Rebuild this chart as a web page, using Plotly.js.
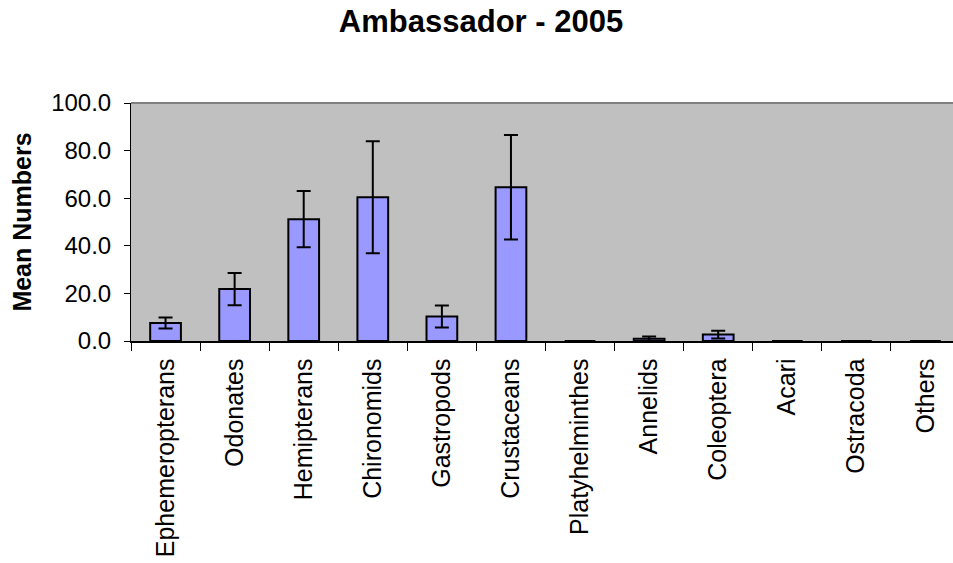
<!DOCTYPE html>
<html>
<head>
<meta charset="utf-8">
<script src="https://cdn.plot.ly/plotly-3.0.1.min.js"></script>
<style>
html,body{margin:0;padding:0;overflow:hidden;background:#fff;}
#chart{width:962px;height:563px;}
</style>
</head>
<body>
<div id="chart"></div>
<script>
const categories = ["Ephemeropterans","Odonates","Hemipterans","Chironomids","Gastropods","Crustaceans","Platyhelminthes","Annelids","Coleoptera","Acari","Ostracoda","Others"];
const meanValues = [7.6, 21.8, 51.2, 60.4, 10.3, 64.6, 0, 0.9, 2.7, 0, 0, 0];
const errorValues = [2.3, 6.8, 11.8, 23.5, 4.6, 22.0, 0, 1.0, 1.6, 0, 0, 0];
const yTickVals = [0, 20, 40, 60, 80, 100];
const yTickText = ["0.0", "20.0", "40.0", "60.0", "80.0", "100.0"];

const trace = {
  type: "bar",
  x: categories,
  y: meanValues,
  marker: {color: "#9999ff", line: {color: "#000000", width: 2}},
  error_y: {type: "data", array: errorValues, visible: true, color: "#000000", thickness: 2, width: 7},
  hoverinfo: "x+y"
};

const layout = {
  width: 962,
  height: 563,
  margin: {l: 131, r: 2, t: 103, b: 222},
  paper_bgcolor: "#ffffff",
  plot_bgcolor: "#c0c0c0",
  bargap: 0.555,
  showlegend: false,
  font: {family: "Liberation Sans, Arial, sans-serif", color: "#000000"},
  title: {
    text: "<b>Ambassador - 2005</b>",
    font: {size: 31, family: "Liberation Sans, Arial, sans-serif", color: "#000"},
    x: 0.5, xanchor: "center", xref: "container",
    y: 1 - 21/563, yanchor: "middle", yref: "container"
  },
  xaxis: {
    type: "category",
    tickson: "boundaries",
    ticks: "outside",
    ticklen: 8,
    tickcolor: "#000",
    tickwidth: 1,
    tickangle: -90,
    tickfont: {size: 25},
    showline: true,
    linecolor: "#000",
    linewidth: 1.5,
    showgrid: false,
    zeroline: false,
    ticklabelstandoff: 6,
    automargin: false
  },
  yaxis: {
    range: [0, 100],
    tickvals: yTickVals,
    ticktext: yTickText,
    ticks: "outside",
    ticklen: 6,
    tickcolor: "#000",
    tickfont: {size: 24},
    showline: true,
    linecolor: "#000",
    linewidth: 1,
    showgrid: false,
    zeroline: false,
    ticklabelstandoff: 8,
    automargin: false,
    title: {text: "<b>Mean Numbers</b>", font: {size: 25}, standoff: 12}
  },
  shapes: [
    {type: "line", xref: "paper", yref: "paper", x0: 0, x1: 1, y0: 1, y1: 1, line: {color: "#808080", width: 2}}
  ]
};

Plotly.newPlot("chart", [trace], layout, {displayModeBar: false, staticPlot: true});
</script>
</body>
</html>
